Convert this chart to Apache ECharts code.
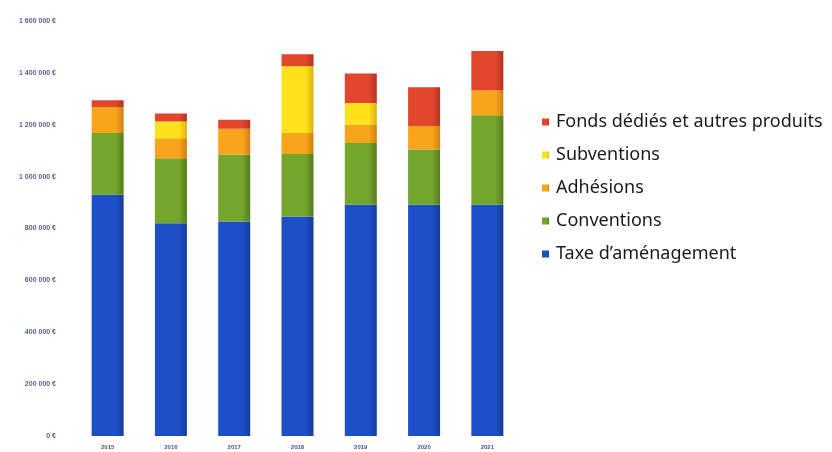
<!DOCTYPE html>
<html>
<head>
<meta charset="utf-8">
<script src="https://cdn.jsdelivr.net/npm/echarts@6/dist/echarts.min.js"></script>
<style>
html,body{margin:0;padding:0;background:#fff;}
#c{width:832px;height:452px;}
</style>
</head>
<body>
<div id="c"></div>
<script>
const years = ['2015','2016','2017','2018','2019','2020','2021'];
const taxe = [930000, 820000, 827000, 846000, 892000, 892000, 892000];
const conventions = [238000, 251000, 258000, 241000, 238000, 213000, 345000];
const adhesions = [100000, 77000, 100000, 81000, 71000, 90000, 95000];
const subventions = [0, 65000, 0, 258000, 83000, 0, 0];
const fonds = [26000, 30000, 34000, 46000, 114000, 150000, 152000];
const yTicks = [0, 200000, 400000, 600000, 800000, 1000000, 1200000, 1400000, 1600000];

const names = {
  taxe: 'Taxe d\u2019aménagement',
  conv: 'Conventions',
  adh: 'Adhésions',
  sub: 'Subventions',
  fonds: 'Fonds dédiés et autres produits'
};

function grad(c1, c2) {
  return new echarts.graphic.LinearGradient(0, 0, 1, 0, [
    {offset: 0, color: c1},
    {offset: 0.75, color: c1},
    {offset: 1, color: c2}
  ]);
}

function fmt(v) {
  return String(v).replace(/\B(?=(\d{3})+(?!\d))/g, ' ') + ' €';
}

const chart = echarts.init(document.getElementById('c'));
const mk = (name, data, c1, c2) => ({
  name: name,
  type: 'bar',
  stack: 'total',
  barWidth: 32,
  data: data,
  itemStyle: {color: grad(c1, c2)}
});

chart.setOption({
  animation: false,
  backgroundColor: '#ffffff',
  grid: {left: 76, right: 313, top: 21, bottom: 16},
  xAxis: {
    type: 'category',
    data: years,
    axisLine: {show: false},
    axisTick: {show: false},
    axisLabel: {fontSize: 6, fontWeight: 'bold', color: '#4a5680', margin: 8, fontFamily: 'Liberation Sans'}
  },
  yAxis: {
    type: 'value',
    min: yTicks[0],
    max: yTicks[yTicks.length - 1],
    interval: 200000,
    splitLine: {show: false},
    axisLine: {show: false},
    axisTick: {show: false},
    axisLabel: {fontSize: 7, fontWeight: 'bold', color: '#56628e', margin: 20, formatter: fmt, fontFamily: 'Liberation Sans'}
  },
  legend: {
    orient: 'vertical',
    left: 537,
    top: 108,
    itemWidth: 7,
    itemHeight: 7,
    itemGap: 15,
    icon: 'rect',
    textStyle: {fontSize: 18, color: '#1a1a1a', fontFamily: 'Noto Sans', padding: [0,0,0,2]},
    data: [names.fonds, names.sub, names.adh, names.conv, names.taxe]
  },
  series: [
    mk(names.taxe, taxe, '#1d50c8', '#143c9c'),
    mk(names.conv, conventions, '#74a52c', '#547c1c'),
    mk(names.adh, adhesions, '#f8a51c', '#d08010'),
    mk(names.sub, subventions, '#ffe21a', '#d8b410'),
    mk(names.fonds, fonds, '#e2472e', '#b83220')
  ]
});
</script>
</body>
</html>
